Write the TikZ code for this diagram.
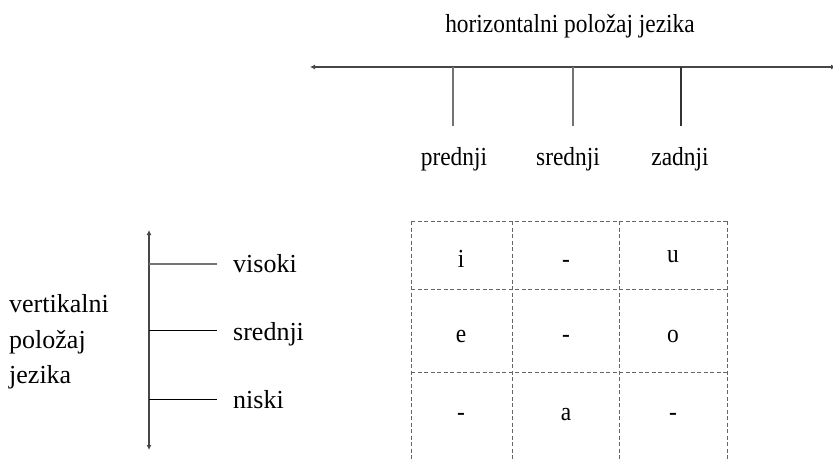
\documentclass[tikz,border=0pt]{standalone}
\usepackage{fontspec}
\setmainfont{Liberation Serif}
\newfontfamily\narrowserif{Liberation Serif}[FakeStretch=0.9]
\usetikzlibrary{arrows.meta}

\begin{document}
\begin{tikzpicture}[
  x=1pt, y=-1pt,
  font=\fontsize{26}{35.5}\selectfont,
  axis/.style={line width=1.8pt, draw=black!72, {Latex[length=5pt,width=5pt]}-{Latex[length=5pt,width=5pt]}},
  tickline/.style={line width=1.3pt, draw=black!55},
  thintick/.style={line width=1pt, draw=black},
  lab/.style={inner sep=0pt, anchor=base},
  toplab/.style={lab, font=\fontsize{26}{30}\narrowserif},
  gridline/.style={dashed, dash pattern=on 4pt off 2.5pt, line width=0.9pt, draw=black!60}
]
\useasboundingbox (0,0) rectangle (833,460);

% horizontal axis
\node[toplab] (htitle) at (570,33) {horizontalni položaj jezika};
\coordinate (hL) at (310,67);
\coordinate (hR) at (836,67);
\draw[axis] (hL) -- (hR);
\foreach \x/\lx/\name/\txt in {453/454/pred/prednji, 573/568/sred/srednji, 681/680/zad/zadnji}{
  \coordinate (\name-a) at (\x,67);
  \coordinate (\name-b) at (\x,126);
  \node[toplab] (\name) at (\lx,165) {\txt};
}
\draw[tickline] (pred-a) -- (pred-b);
\draw[tickline] (sred-a) -- (sred-b);
\draw[tickline, draw=black!80] (zad-a) -- (zad-b);

% vertical axis
\node[align=left, inner sep=0pt, anchor=west] (vtitle) at (9,342) {vertikalni\\položaj\\jezika};
\coordinate (vT) at (149,230);
\coordinate (vB) at (149,450);
\draw[axis] (vT) -- (vB);
\foreach \y/\by/\name/\txt in {264/272/vis/visoki, 330/340/vsr/srednji, 399/408/nis/niski}{
  \coordinate (\name-a) at (149,\y);
  \coordinate (\name-b) at (217,\y);
  \node[inner sep=0pt, anchor=base west] (\name) at (233,\by) {\txt};
}
\draw[tickline] (vis-a) -- (vis-b);
\draw[thintick] (vsr-a) -- (vsr-b);
\draw[thintick] (nis-a) -- (nis-b);

% table of vowels
\foreach \x [count=\i] in {411,512,619,727}
  \draw[gridline] (\x,221) coordinate (col\i) -- (\x,462);
\foreach \y [count=\i] in {221,289,372}
  \draw[gridline] (411,\y) coordinate (row\i) -- (727,\y);
\foreach \y/\r in {267/1, 342/2, 420/3}{
  \foreach \x/\c in {461/1, 566/2, 673/3}
    \coordinate (cell-\r-\c) at (\x,\y);
}
\node[toplab] (v-i) at (cell-1-1) {i};
\node[toplab] (v-1) at (cell-1-2) {-};
\node[toplab] (v-u) at ([yshift=5pt]cell-1-3) {u};
\node[toplab] (v-e) at (cell-2-1) {e};
\node[toplab] (v-2) at (cell-2-2) {-};
\node[toplab] (v-o) at (cell-2-3) {o};
\node[toplab] (v-3) at (cell-3-1) {-};
\node[toplab] (v-a) at (cell-3-2) {a};
\node[toplab] (v-4) at (cell-3-3) {-};
\end{tikzpicture}
\end{document}
